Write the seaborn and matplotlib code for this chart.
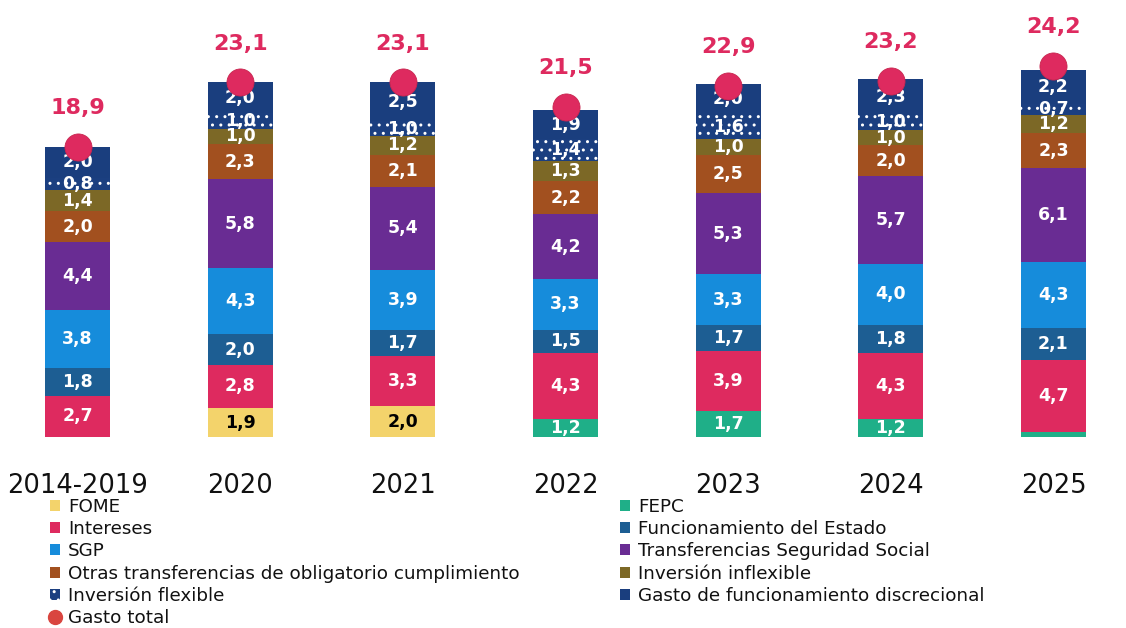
import matplotlib
matplotlib.use("Agg")
import matplotlib.pyplot as plt
from matplotlib.patches import Patch
from matplotlib.lines import Line2D
import seaborn as sns
import numpy as np
import pandas as pd

years = ["2014-2019", "2020", "2021", "2022", "2023", "2024", "2025"]

fome = [0.0, 1.9, 2.0, 0.0, 0.0, 0.0, 0.0]
fepc = [0.0, 0.0, 0.0, 1.2, 1.7, 1.2, 0.3]
intereses = [2.7, 2.8, 3.3, 4.3, 3.9, 4.3, 4.7]
funcionamiento = [1.8, 2.0, 1.7, 1.5, 1.7, 1.8, 2.1]
sgp = [3.8, 4.3, 3.9, 3.3, 3.3, 4.0, 4.3]
transferencias_ss = [4.4, 5.8, 5.4, 4.2, 5.3, 5.7, 6.1]
otras_transf = [2.0, 2.3, 2.1, 2.2, 2.5, 2.0, 2.3]
inv_inflexible = [1.4, 1.0, 1.2, 1.3, 1.0, 1.0, 1.2]
inv_flexible = [0.8, 1.0, 1.0, 1.4, 1.6, 1.0, 0.7]
gasto_discrecional = [2.0, 2.0, 2.5, 1.9, 2.0, 2.3, 2.2]
gasto_total = [18.9, 23.1, 23.1, 21.5, 22.9, 23.2, 24.2]

series_names = ["FOME", "FEPC", "Intereses", "Funcionamiento del Estado", "SGP",
                "Transferencias Seguridad Social",
                "Otras transferencias de obligatorio cumplimiento",
                "Inversión inflexible", "Inversión flexible",
                "Gasto de funcionamiento discrecional"]
series_vals = [fome, fepc, intereses, funcionamiento, sgp, transferencias_ss,
               otras_transf, inv_inflexible, inv_flexible, gasto_discrecional]
colors = ["#F3D36B", "#1FAF88", "#DE2A5F", "#1D5E93", "#168CDB", "#692C93",
          "#A2501F", "#7C6826", "#1B3F80", "#1A3E7E"]
label_colors = ["black"] + ["white"] * 9
hatches = [None] * 8 + [".."] + [None]
total_color = "#DE2A5F"

sns.set_theme(style="white")
plt.rcParams["font.family"] = ["DejaVu Sans"]
plt.rcParams["hatch.linewidth"] = 1.0

fig = plt.figure(figsize=(11.26, 6.28), dpi=100)
ax = fig.add_axes([0.0, 0.304, 1.0, 0.66])

vals = np.array(series_vals)
cum_top = np.cumsum(vals, axis=0)
cum_bottom = cum_top - vals

# draw from the top layer downwards so each cumulative bar is overdrawn by the lower ones
for i in range(len(series_names) - 1, -1, -1):
    df = pd.DataFrame({"year": years, "v": cum_top[i]})
    if hatches[i]:
        kw = dict(hatch=hatches[i], edgecolor="white", linewidth=0)
    else:
        kw = dict(linewidth=0)
    sns.barplot(data=df, x="year", y="v", order=years, color=colors[i],
                saturation=1, width=0.4, ax=ax, zorder=2, **kw)

for i, name in enumerate(series_names):
    for j, y in enumerate(years):
        v = vals[i, j]
        if v >= 0.5:
            ax.text(j, cum_bottom[i, j] + v / 2, f"{v:.1f}".replace(".", ","),
                    ha="center", va="center", color=label_colors[i],
                    fontsize=12.5, fontweight="bold", zorder=4)

tot_df = pd.DataFrame({"year": years, "total": gasto_total})
sns.scatterplot(data=tot_df, x="year", y="total", s=380, color=total_color,
                edgecolor="#C8264F", linewidth=0.6, ax=ax, zorder=5, legend=False)
for j, t in enumerate(gasto_total):
    ax.annotate(f"{t:.1f}".replace(".", ","), (j, t), xytext=(0, 28),
                textcoords="offset points", ha="center", va="center",
                color=total_color, fontsize=16, fontweight="bold")

ax.set_xlim(-0.477, 6.446)
ax.set_ylim(0, 27)
ax.set_xlabel("")
ax.set_ylabel("")
ax.set_yticks([])
ax.tick_params(axis="x", length=0, pad=26, labelsize=18.5, labelcolor="#111111")
for s in ax.spines.values():
    s.set_visible(False)

# legend (row-wise order as in reference)
handles = {}
for i, name in enumerate(series_names):
    if hatches[i]:
        handles[name] = Patch(facecolor=colors[i], hatch="..", edgecolor="white", linewidth=0)
    else:
        handles[name] = Patch(facecolor=colors[i], linewidth=0)
handles["Gasto total"] = Line2D([], [], marker="o", linestyle="none", markersize=10,
                               markerfacecolor="#D9453F", markeredgecolor="#D9453F")
left_col = ["FOME", "Intereses", "SGP", "Otras transferencias de obligatorio cumplimiento",
            "Inversión flexible", "Gasto total"]
right_col = ["FEPC", "Funcionamiento del Estado", "Transferencias Seguridad Social",
             "Inversión inflexible", "Gasto de funcionamiento discrecional"]
order = left_col + right_col
leg = fig.legend([handles[n] for n in order], order, ncol=2, loc="upper left",
                 bbox_to_anchor=(0.0444, 0.207), frameon=False, fontsize=13.2,
                 handlelength=0.55, handleheight=0.55, handletextpad=0.42,
                 labelspacing=0.23, columnspacing=5.5, borderpad=0, borderaxespad=0)
for t in leg.get_texts():
    t.set_color("#111111")

fig.savefig("out.png", dpi=100)
